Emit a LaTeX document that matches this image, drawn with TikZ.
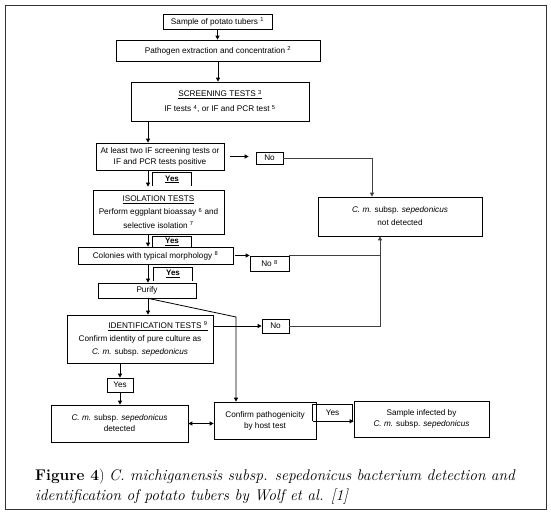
\documentclass[tikz,border=0pt]{standalone}
\usepackage{fontspec}
\newfontfamily\arial{Liberation Sans}
\usetikzlibrary{arrows.meta}
\begin{document}
\begin{tikzpicture}[x=1pt,y=-1pt,
  box/.style={draw, line width=0.7pt, inner sep=1pt, align=center, font=\arial\fontsize{8.2}{11}\selectfont},
  arr/.style={-{Triangle[length=4pt,width=4pt]}, line width=0.8pt},
  darr/.style={{Triangle[length=4pt,width=4pt]}-{Triangle[length=4pt,width=4pt]}, line width=0.8pt},
  ln/.style={line width=0.7pt},
  yesb/.style={inner sep=0pt, font=\arial\bfseries\fontsize{8}{9}\selectfont, minimum width=38pt},
  capt/.style={anchor=base west, inner sep=0pt, font=\fontsize{15.5}{20}\selectfont}
]
\useasboundingbox (0,0) rectangle (551,513);
\draw[line width=0.8pt, black!80] (5,5) rectangle (546,509);

\node[box, minimum width=109pt, minimum height=15pt] (sample) at (217.5,21.5) {Sample of potato tubers \textsuperscript{1}};
\node[box, minimum width=204pt, minimum height=21pt] (path) at (218,50.5) {Pathogen extraction and concentration \textsuperscript{2}};
\node[box, minimum width=178pt, minimum height=39pt] (screen) at (220,101.5) {\underline{SCREENING TESTS \textsuperscript{3}}\\[4pt]IF tests \textsuperscript{4}, or IF and PCR test \textsuperscript{5}};
\node[box, minimum width=128pt, minimum height=27pt] (atl) at (160,156.5) {At least two IF screening tests or\\IF and PCR tests positive};
\node[box, minimum width=27pt, minimum height=12pt] (no1) at (269.5,158) {No};
\node[box, minimum width=164pt, minimum height=39pt, font=\arial\fontsize{8.2}{13}\selectfont] (nd) at (400,216.5) {\textit{C. m.} subsp. \textit{sepedonicus}\\not detected};
\node[box, minimum width=131pt, minimum height=44pt, font=\arial\fontsize{8.2}{13.5}\selectfont] (iso) at (158.5,212) {\underline{ISOLATION TESTS}\\Perform eggplant bioassay \textsuperscript{6} and\\selective isolation \textsuperscript{7}};
\node[box, minimum width=155pt, minimum height=17pt] (col) at (155.5,255.5) {Colonies with typical morphology \textsuperscript{8}};
\node[box, minimum width=39pt, minimum height=15pt] (no8) at (269.5,263.5) {No \textsuperscript{8}};
\node[box, minimum width=98pt, minimum height=15pt] (pur) at (147,290.5) {Purify};
\node[box, minimum width=146pt, minimum height=48pt, font=\arial\fontsize{8.2}{13}\selectfont] (idt) at (140,339) {\hspace*{36pt}\underline{IDENTIFICATION TESTS \textsuperscript{9}}\\Confirm identity of pure culture as\\\textit{C. m.} subsp. \textit{sepedonicus}};
\node[box, minimum width=27pt, minimum height=14pt] (no3) at (275.5,326) {No};
\node[box, minimum width=26pt, minimum height=14pt] (yes4) at (120,385) {Yes};
\node[box, minimum width=137pt, minimum height=37pt] (det) at (119.5,423.5) {\textit{C. m.} subsp. \textit{sepedonicus}\\detected};
\node[box, minimum width=102pt, minimum height=37pt] (conf) at (265,420.5) {Confirm pathogenicity\\by host test};
\node[box, minimum width=135pt, minimum height=36pt] (inf) at (421.5,419) {Sample infected by\\\textit{C. m.} subsp. \textit{sepedonicus}};

\node[yesb, minimum height=13pt] (y1) at (172,179.5) {\underline{Yes}};
\node[yesb, minimum height=10pt] (y2) at (172,242) {\underline{Yes}};
\node[yesb, minimum height=13pt] (y3) at (173,274) {\underline{Yes}};
\node[yesb, minimum width=39pt, minimum height=16pt, font=\arial\fontsize{8.2}{9}\selectfont] (y5) at (332.5,413) {Yes};
\foreach \y in {y1,y2,y3,y5}{
  \draw[ln] (\y.south west) |- (\y.north east) -- (\y.south east);
}

\coordinate (cx) at (148,0);
\coordinate (nx) at (372,0);
\coordinate (vx) at (380,0);
\coordinate (dg) at (236,317);

\draw[arr] (sample.south) -- (sample.south |- path.north);
\draw[arr] (path.south) -- (path.south |- screen.north);
\draw[arr] (screen.south -| cx) -- (atl.north -| cx);
\draw[arr, shorten >=3pt] (atl.south -| cx) -- (iso.north -| cx);
\draw[arr] (iso.south -| cx) -- (col.north -| cx);
\draw[arr] (col.south -| cx) -- (pur.north -| cx);
\draw[arr] (pur.south -| cx) -- (idt.north -| cx);
\draw[arr, shorten <=6pt, shorten >=7pt] (atl.east) -- (atl.east -| no1.west);
\draw[arr, black!75] (no1.east) -| (nd.north -| nx);
\draw[arr, shorten <=2pt] (col.east) -- (col.east -| no8.west);
\draw[ln, black!75] (no8.north east) -- (no8.north east -| vx);
\draw[arr] (idt.east |- no3.west) -- (no3.west);
\draw[arr, black!75] (no3.east) -| (nd.south -| vx);
\draw[arr] (pur.south -| cx) -- (dg) -- (conf.north -| dg);
\draw[arr] (idt.south -| yes4) -- (yes4.north);
\draw[arr] (yes4.south) -- (yes4.south |- det.north);
\draw[darr] (det.east) -- (det.east -| conf.west);
\draw[arr] (y5.south west) -- (y5.south west -| inf.west);

\node[capt] (cap1) at (35,480) {\textbf{Figure 4})\ \textit{C. michiganensis subsp. sepedonicus bacterium detection and}};
\node[capt] (cap2) at (35,500) {\textit{identification of potato tubers by Wolf et al. [1]}};
\end{tikzpicture}
\end{document}
